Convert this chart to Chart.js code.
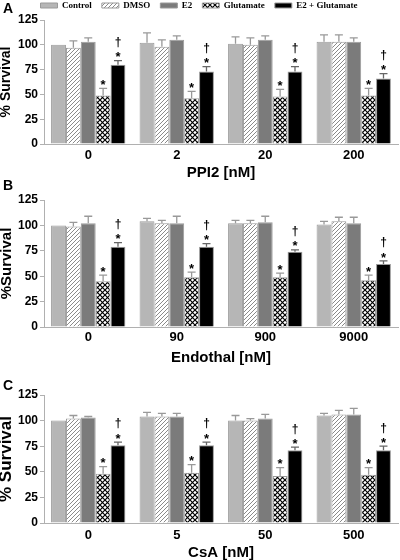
<!DOCTYPE html>
<html lang="en">
<head>
  <meta charset="UTF-8" />
  <title>% Survival - PPI2, Endothal, CsA</title>
  <script src="https://cdn.jsdelivr.net/npm/chart.js"></script>
  <style>
    body { margin: 0; padding: 0; background: #fff; }
    .wrap { position: relative; width: 400px; height: 560px; }
    .panel { position: absolute; left: 0; width: 400px; }
    #panelA { top: 0; height: 180px; }
    #panelB { top: 180px; height: 190px; }
    #panelC { top: 370px; height: 190px; }
  </style>
</head>
<body>
  <div class="wrap">
    <div class="panel" id="panelA"><canvas id="chartA"></canvas></div>
    <div class="panel" id="panelB"><canvas id="chartB"></canvas></div>
    <div class="panel" id="panelC"><canvas id="chartC"></canvas></div>
  </div>

  <script>
    const seriesNames = ["Control", "DMSO", "E2", "Glutamate", "E2 + Glutamate"];

    // panel A - PPI2
    const dosesA = ["0", "2", "20", "200"];
    const controlA = [100, 102, 101, 103];
    const dmsoA = [97, 98, 100, 103];
    const e2A = [103, 105, 105, 103];
    const gluA = [49, 46, 48, 49];
    const e2GluA = [80, 73, 73, 66];
    const controlErrA = [0, 10, 7, 7];
    const dmsoErrA = [7, 7, 7, 7];
    const e2ErrA = [4, 4, 4, 4];
    const gluErrA = [7, 7, 7, 7];
    const e2GluErrA = [4, 5, 5, 5];

    // panel B - Endothal
    const dosesB = ["0", "90", "900", "9000"];
    const controlB = [100, 104, 102, 101];
    const dmsoB = [99, 102, 102, 104];
    const e2B = [102, 102, 103, 102];
    const gluB = [45, 49, 49, 46];
    const e2GluB = [79, 79, 74, 62];
    const controlErrB = [0, 3, 3, 3];
    const dmsoErrB = [4, 3, 3, 4];
    const e2ErrB = [7, 7, 6, 6];
    const gluErrB = [6, 5, 4, 5];
    const e2GluErrB = [4, 3, 2, 3];

    // panel C - CsA
    const dosesC = ["0", "5", "50", "500"];
    const controlC = [100, 104, 100, 105];
    const dmsoC = [102, 104, 100, 106];
    const e2C = [103, 104, 102, 106];
    const gluC = [48, 49, 46, 47];
    const e2GluC = [76, 76, 71, 71];
    const controlErrC = [0, 4, 5, 2];
    const dmsoErrC = [3, 3, 2, 4];
    const e2ErrC = [1, 3, 4, 6];
    const gluErrC = [7, 8, 8, 7];
    const e2GluErrC = [3, 3, 3, 4];

    const yTicks = [0, 25, 50, 75, 100, 125];
    // significance marks per series (drawn above error bar)
    const seriesMarks = ["", "", "", "*", "†*"];

    function hatchPattern() {
      const c = document.createElement("canvas");
      c.width = 4; c.height = 4;
      const g = c.getContext("2d");
      g.fillStyle = "#fff"; g.fillRect(0, 0, 4, 4);
      g.strokeStyle = "#8a8a8a"; g.lineWidth = 1;
      g.beginPath();
      g.moveTo(-1, 5); g.lineTo(5, -1);
      g.moveTo(-1, 1); g.lineTo(1, -1);
      g.moveTo(3, 5); g.lineTo(5, 3);
      g.stroke();
      return g.createPattern(c, "repeat");
    }

    function crossPattern() {
      const s = 5;
      const c = document.createElement("canvas");
      c.width = s; c.height = s;
      const g = c.getContext("2d");
      g.fillStyle = "#fff"; g.fillRect(0, 0, s, s);
      g.strokeStyle = "#000"; g.lineWidth = 1.2;
      g.beginPath();
      g.moveTo(0, 0); g.lineTo(s, s);
      g.moveTo(s, 0); g.lineTo(0, s);
      g.stroke();
      return g.createPattern(c, "repeat");
    }

    const fills = ["#b6b6b6", hatchPattern(), "#7b7b7b", crossPattern(), "#000"];

    const errorBars = {
      id: "errorBars",
      afterDatasetsDraw(chart) {
        const ctx = chart.ctx;
        const y = chart.scales.y;
        ctx.save();
        chart.data.datasets.forEach((ds, i) => {
          const meta = chart.getDatasetMeta(i);
          meta.data.forEach((bar, j) => {
            const top = y.getPixelForValue(ds.data[j] + ds.err[j]);
            if (ds.err[j] > 0) {
              ctx.strokeStyle = i == 4 ? "#666" : "#999";
              ctx.lineWidth = 1.3;
              ctx.beginPath();
              ctx.moveTo(bar.x, bar.y);
              ctx.lineTo(bar.x, top);
              ctx.moveTo(bar.x - 4, top);
              ctx.lineTo(bar.x + 4, top);
              ctx.stroke();
            }
            const marks = seriesMarks[i];
            ctx.fillStyle = "#000";
            ctx.textAlign = "center";
            ctx.textBaseline = "middle";
            if (marks.includes("*")) {
              ctx.font = "bold 13px 'Liberation Sans', Arial, sans-serif";
              ctx.fillText("*", bar.x, top - 3);
            }
            if (marks.includes("†")) {
              ctx.font = "bold 12px 'Liberation Sans', Arial, sans-serif";
              ctx.fillText("†", bar.x, top - 18);
            }
          });
        });
        ctx.restore();
      }
    };

    const panelLetter = {
      id: "panelLetter",
      afterDraw(chart, args, opts) {
        const ctx = chart.ctx;
        ctx.save();
        ctx.fillStyle = "#000";
        ctx.font = "bold 14px 'Liberation Sans', Arial, sans-serif";
        ctx.textBaseline = "middle";
        ctx.fillText(opts.text, opts.x, opts.y);
        ctx.restore();
      }
    };

    function makeChart(id, p) {
      const datasets = p.values.map((vals, i) => ({
        label: seriesNames[i],
        data: vals,
        err: p.errs[i],
        backgroundColor: fills[i],
        borderColor: "#9a9a9a",
        borderWidth: 1,
        categoryPercentage: 0.84,
        barPercentage: 1.0
      }));

      return new Chart(document.getElementById(id), {
        type: "bar",
        data: { labels: p.labels, datasets: datasets },
        plugins: [errorBars, panelLetter],
        options: {
          responsive: true,
          maintainAspectRatio: false,
          animation: false,
          layout: { padding: { top: p.padTop, right: 2, bottom: 0, left: 0 } },
          plugins: {
            legend: {
              display: p.legend,
              labels: {
                boxWidth: 17,
                boxHeight: 5,
                padding: 10,
                color: "#000",
                font: { family: "'Liberation Serif', 'Times New Roman', serif", size: 9, weight: "bold" }
              }
            },
            tooltip: { enabled: false },
            panelLetter: { text: p.letter, x: 3, y: p.letterY }
          },
          scales: {
            x: {
              grid: { display: false, drawTicks: false },
              border: { color: "#b0b0b0", width: 1 },
              ticks: {
                color: "#000",
                padding: p.tickPad,
                font: { family: "'Liberation Sans', Arial, sans-serif", size: 13, weight: "bold" }
              },
              title: {
                display: true,
                text: p.xTitle,
                color: "#000",
                padding: { top: 0, bottom: p.titlePad },
                font: { family: "'Liberation Sans', Arial, sans-serif", size: 15, weight: "bold", lineHeight: 1 }
              },
              afterFit: (scale) => { scale.height = p.xHeight; }
            },
            y: {
              min: 0,
              max: 125,
              afterBuildTicks: (scale) => { scale.ticks = yTicks.map(v => ({ value: v })); },
              grid: { drawOnChartArea: false, drawTicks: true, tickLength: 4, color: "#b0b0b0" },
              border: { color: "#b0b0b0", width: 1 },
              ticks: {
                color: "#000",
                padding: 2,
                font: { family: "'Liberation Sans', Arial, sans-serif", size: 12, weight: "bold" }
              },
              title: {
                display: true,
                text: p.yTitle,
                color: "#000",
                padding: { top: p.yTitlePad, bottom: 0 },
                font: { family: "'Liberation Sans', Arial, sans-serif", size: p.yTitleSize, weight: "bold", lineHeight: 1 }
              },
              afterFit: (scale) => { scale.width = 44; }
            }
          }
        }
      });
    }

    makeChart("chartA", {
      labels: dosesA,
      values: [controlA, dmsoA, e2A, gluA, e2GluA],
      errs: [controlErrA, dmsoErrA, e2ErrA, gluErrA, e2GluErrA],
      legend: true, padTop: -9, letter: "A", letterY: 9,
      xTitle: "PPI2 [nM]", yTitle: "% Survival", yTitleSize: 14, yTitlePad: -1,
      tickPad: 4, titlePad: 0, xHeight: 36
    });

    makeChart("chartB", {
      labels: dosesB,
      values: [controlB, dmsoB, e2B, gluB, e2GluB],
      errs: [controlErrB, dmsoErrB, e2ErrB, gluErrB, e2GluErrB],
      legend: false, padTop: 20, letter: "B", letterY: 6,
      xTitle: "Endothal [nM]", yTitle: "%Survival", yTitleSize: 15, yTitlePad: -1,
      tickPad: 3, titlePad: 5, xHeight: 43
    });

    makeChart("chartC", {
      labels: dosesC,
      values: [controlC, dmsoC, e2C, gluC, e2GluC],
      errs: [controlErrC, dmsoErrC, e2ErrC, gluErrC, e2GluErrC],
      legend: false, padTop: 25, letter: "C", letterY: 16,
      xTitle: "CsA [nM]", yTitle: "% Survival", yTitleSize: 17, yTitlePad: -2,
      tickPad: 5, titlePad: 0, xHeight: 37
    });
  </script>
</body>
</html>
